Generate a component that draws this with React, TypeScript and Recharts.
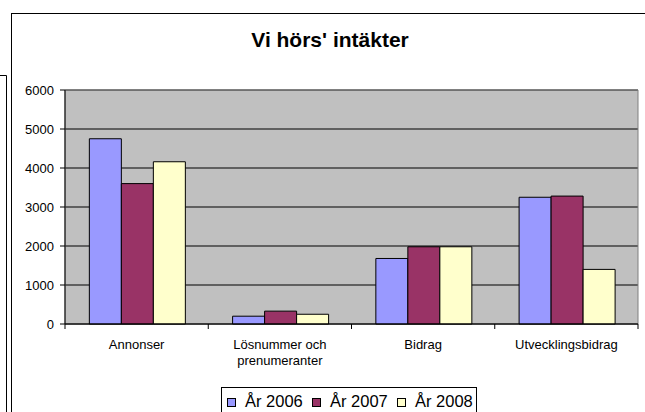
import React from "react";
import { BarChart, Bar, XAxis, YAxis, CartesianGrid, ReferenceArea } from "recharts";

const categories = ["Annonser", "Lösnummer och\nprenumeranter", "Bidrag", "Utvecklingsbidrag"];
const seriesNames = ["År 2006", "År 2007", "År 2008"];
const values2006 = [4750, 200, 1680, 3250];
const values2007 = [3600, 330, 1980, 3280];
const values2008 = [4160, 250, 1980, 1400];
const yTicks = [0, 1000, 2000, 3000, 4000, 5000, 6000];
const colors = ["#9999FF", "#993366", "#FFFFCC"];

const data = categories.map((c, i) => ({
  name: c,
  s0: values2006[i],
  s1: values2007[i],
  s2: values2008[i],
}));

const W = 645;
const H = 412;
const M = { top: 90, right: 7, left: 0, bottom: 0 };
const Y_W = 65;
const X_H = 88;
const PLOT_W = W - M.left - M.right - Y_W;
const BAND = PLOT_W / categories.length;
const FONT = "'Liberation Sans', Arial, sans-serif";

const XTick = (props: any) => {
  const { x, y, payload, index } = props;
  const lines = String(payload.value).split("\n");
  const left = x - BAND / 2;
  const right = x + BAND / 2;
  return (
    <g>
      <line x1={left} x2={left} y1={y} y2={y + 5} stroke="#000" strokeWidth={1} />
      {index === categories.length - 1 && (
        <line x1={right} x2={right} y1={y} y2={y + 5} stroke="#000" strokeWidth={1} />
      )}
      {lines.map((l, i) => (
        <text
          key={i}
          x={x}
          y={y + 25 + i * 16}
          textAnchor="middle"
          fontSize={13}
          fontFamily={FONT}
          fill="#000"
        >
          {l}
        </text>
      ))}
    </g>
  );
};

export default function App() {
  return (
    <div
      style={{
        position: "absolute",
        left: 0,
        top: 0,
        width: W,
        height: H,
        overflow: "hidden",
        background: "#fff",
        fontFamily: FONT,
      }}
    >
      <svg
        width={W}
        height={H}
        style={{ position: "absolute", left: 0, top: 0, pointerEvents: "none" }}
      >
        <line x1={0} x2={6.5} y1={75.5} y2={75.5} stroke="#000" />
        <line x1={6.5} x2={6.5} y1={75.5} y2={H + 5} stroke="#000" />
        <rect x={11.5} y={13.5} width={W + 20} height={H + 20} fill="none" stroke="#000" />
      </svg>
      <div
        style={{
          position: "absolute",
          left: 0,
          width: 660,
          top: 27,
          textAlign: "center",
          fontWeight: "bold",
          fontSize: 21,
          lineHeight: "26px",
          color: "#000",
        }}
      >
        Vi hörs' intäkter
      </div>
      <div style={{ position: "absolute", left: 0, top: 0 }}>
        <BarChart
          width={W}
          height={H}
          data={data}
          margin={M}
          barCategoryGap="17%"
          barGap={0}
        >
          <CartesianGrid
            vertical={false}
            stroke="#000"
            strokeWidth={1}
            fill="#C0C0C0"
            fillOpacity={1}
          />
          <ReferenceArea y1={0} y2={6000} fill="none" stroke="#808080" strokeWidth={1} />
          <XAxis
            dataKey="name"
            height={X_H}
            tickLine={false}
            tickSize={0}
            tickMargin={0}
            axisLine={{ stroke: "#000" }}
            tick={<XTick />}
            interval={0}
          />
          <YAxis
            width={Y_W}
            domain={[0, 6000]}
            ticks={yTicks}
            tickSize={5}
            tickMargin={6}
            tickLine={{ stroke: "#000" }}
            axisLine={{ stroke: "#000" }}
            tick={{ fontSize: 13, fill: "#000", fontFamily: FONT }}
            interval={0}
          />
          {["s0", "s1", "s2"].map((k, i) => (
            <Bar
              key={k}
              dataKey={k}
              name={seriesNames[i]}
              fill={colors[i]}
              stroke="#000"
              strokeWidth={1}
              isAnimationActive={false}
            />
          ))}
        </BarChart>
      </div>
      <div
        style={{
          position: "absolute",
          left: 221,
          top: 387,
          width: 256,
          height: 40,
          border: "1px solid #000",
          boxSizing: "border-box",
        }}
      >
        {seriesNames.map((n, i) => (
          <div
            key={n}
            style={{
              position: "absolute",
              left: 5 + i * 85,
              top: 2,
              display: "flex",
              alignItems: "center",
              whiteSpace: "nowrap",
              fontSize: 16.5,
              lineHeight: "22px",
            }}
          >
            <span
              style={{
                display: "inline-block",
                width: 7,
                height: 7,
                background: colors[i],
                border: "1px solid #000",
                marginRight: 9,
                marginTop: 3,
              }}
            />
            {n}
          </div>
        ))}
      </div>
    </div>
  );
}
